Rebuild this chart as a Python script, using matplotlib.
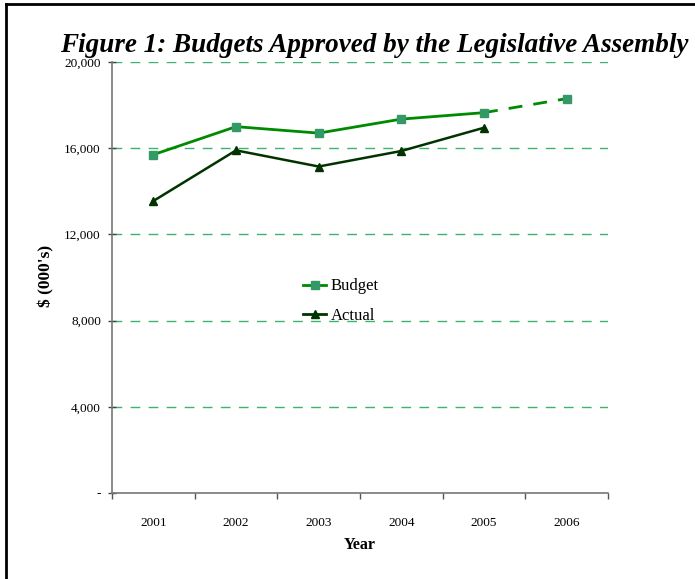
import matplotlib
matplotlib.use("Agg")
import matplotlib.pyplot as plt
from matplotlib.lines import Line2D
from matplotlib.ticker import FuncFormatter

years = ["2001", "2002", "2003", "2004", "2005", "2006"]
budget = [15700, 17000, 16700, 17350, 17650, 18300]
actual = [13550, 15900, 15150, 15870, 16950]
yticks = [0, 4000, 8000, 12000, 16000, 20000]

plt.rcParams['font.family'] = ['Liberation Serif', 'DejaVu Serif']

W, H = 695, 579
fig = plt.figure(figsize=(W / 100, H / 100), dpi=100)
ax = fig.add_axes([112 / W, 86 / H, 496 / W, 431 / H])

x = list(range(len(years)))
grid_c = '#3CB371'
for yv in yticks[1:]:
    ax.plot([-0.5, 5.5], [yv, yv], color=grid_c, lw=1.0, dashes=(7, 6), zorder=1)

bud_c = '#008A00'
bud_m = '#339966'
act_c = '#003300'
# budget solid through 2005, dashed to 2006
ax.plot(x[:5], budget[:5], color=bud_c, lw=2, zorder=3)
ax.plot(x[4:], budget[4:], color=bud_c, lw=2, dashes=(5, 4), zorder=3)
ax.plot(x, budget, ls='none', marker='s', ms=6, color=bud_m, zorder=4)
ax.plot(x[:len(actual)], actual, color=act_c, lw=1.8, marker='^', ms=6, zorder=4)

h1 = Line2D([], [], color=bud_c, lw=2, marker='s', ms=6, mfc=bud_m, mec=bud_m)
h2 = Line2D([], [], color=act_c, lw=2, marker='^', ms=6)
fig.legend([h1, h2], ['Budget', 'Actual'], loc='center left',
           bbox_to_anchor=(288 / W, 1 - 301 / H), frameon=False,
           fontsize=12, handlelength=1.4, handletextpad=0.25, labelspacing=0.8)

ax.set_xlim(-0.5, 5.5)
ax.set_ylim(0, 20000)
ax.set_yticks(yticks)
ax.yaxis.set_major_formatter(FuncFormatter(lambda v, p: '-' if v == 0 else f'{int(v):,}'))
ax.set_xticks(x)
ax.set_xticklabels(years)
ax.set_xticks([i - 0.5 for i in range(len(years) + 1)], minor=True)
ax.tick_params(axis='x', which='major', length=0, pad=17, labelsize=9.5)
ax.tick_params(axis='x', which='minor', length=4, width=1, color='#555555', direction='out')
ax.tick_params(axis='y', which='major', length=6, width=1, color='#444444', direction='inout', labelsize=9.5, pad=5)

for s in ['top', 'right']:
    ax.spines[s].set_visible(False)
for s in ['left', 'bottom']:
    ax.spines[s].set_color('#777777')
    ax.spines[s].set_linewidth(1.2)

ax.set_xlabel('Year', fontsize=11.5, fontweight='bold', labelpad=6)
fig.text(46 / W, 1 - 276 / H, "$ (000's)", rotation=90, fontsize=12.5,
         fontweight='bold', ha='center', va='center')

fig.text(374 / W, 1 - 46 / H, 'Figure 1: Budgets Approved by the Legislative Assembly',
         fontsize=19.5, fontweight='bold', style='italic', ha='center', va='center')

# outer frame
fig.add_artist(Line2D([6 / W, 6 / W], [0, 1 - 4 / H], color='black', lw=2))
fig.add_artist(Line2D([6 / W, 1], [1 - 4 / H, 1 - 4 / H], color='black', lw=2))

fig.savefig('out.png', dpi=100)
